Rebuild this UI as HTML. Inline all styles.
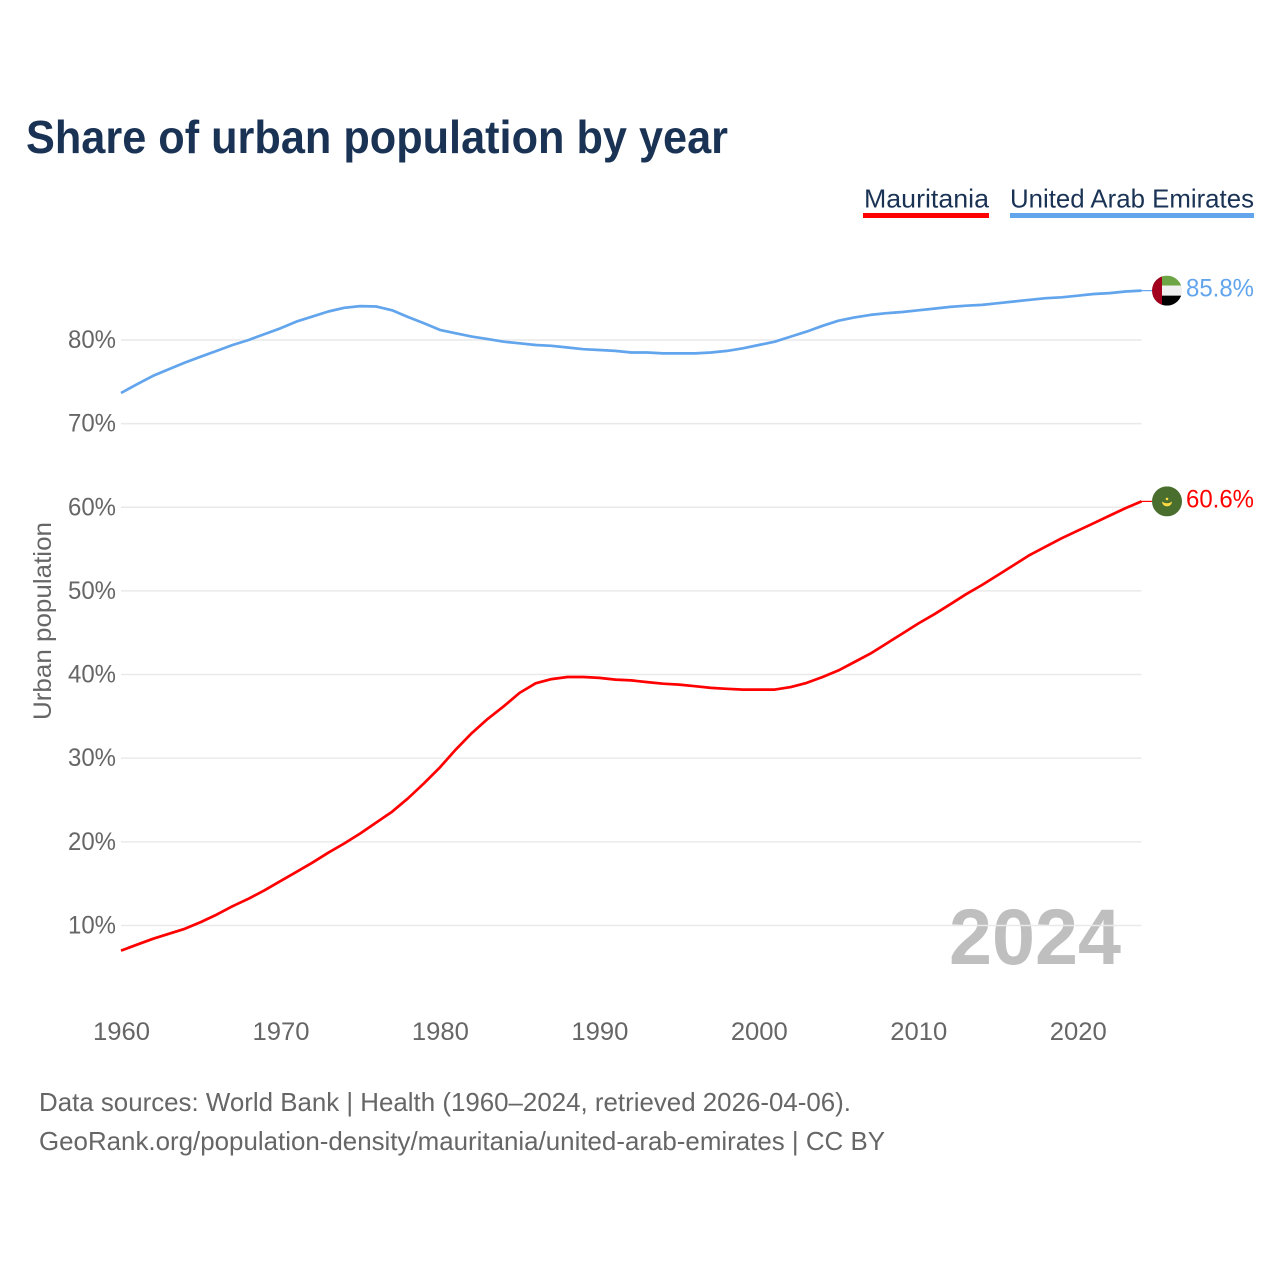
<!DOCTYPE html>
<html lang="en">
<head>
<meta charset="utf-8">
<title>Share of urban population by year</title>
<style>
html,body{margin:0;padding:0;background:#fff;width:1280px;height:1280px;overflow:hidden}
svg{display:block;font-family:"Liberation Sans",sans-serif}
</style>
</head>
<body>
<svg id="chart" width="1280" height="1280" viewBox="0 0 1280 1280" xmlns="http://www.w3.org/2000/svg">
  <rect width="1280" height="1280" fill="#fff"/>
  <text x="26" y="153" font-size="46" font-weight="700" fill="#1a3355" textLength="702" lengthAdjust="spacingAndGlyphs">Share of urban population by year</text>

  <g>
    <text x="864" y="207.5" font-size="26" fill="#1a3355" textLength="125" lengthAdjust="spacingAndGlyphs">Mauritania</text>
    <rect x="863" y="213" width="126" height="5" fill="#ff0000"/>
  </g>
  <g>
    <text x="1010" y="207.5" font-size="26" fill="#1a3355" textLength="244" lengthAdjust="spacingAndGlyphs">United Arab Emirates</text>
    <rect x="1010" y="213" width="244" height="5" fill="#62a5ed"/>
  </g>

  <text x="949" y="964" font-size="79" font-weight="700" fill="#bfbfbf" textLength="172" lengthAdjust="spacingAndGlyphs">2024</text>

  <g id="grid"></g>
  <g id="yticks"></g>
  <g id="xticks"></g>

  <text transform="translate(51,720) rotate(-90)" font-size="25" fill="#666" textLength="198" lengthAdjust="spacingAndGlyphs">Urban population</text>

  <g id="series"></g>

  <defs>
    <clipPath id="clip-uae"><circle id="clip-uae-c" r="15"/></clipPath>
    <clipPath id="clip-mr"><circle id="clip-mr-c" r="15"/></clipPath>
  </defs>
  <g id="flag-uae" clip-path="url(#clip-uae)"></g>
  <g id="flag-mr" clip-path="url(#clip-mr)"></g>
  <g id="end-labels"></g>

  <text x="39" y="1111" font-size="26" fill="#666" textLength="812" lengthAdjust="spacingAndGlyphs">Data sources: World Bank | Health (1960–2024, retrieved 2026-04-06).</text>
  <text x="39" y="1150" font-size="26" fill="#666" textLength="846" lengthAdjust="spacingAndGlyphs">GeoRank.org/population-density/mauritania/united-arab-emirates | CC BY</text>
</svg>
<script>
const years = [1960,1961,1962,1963,1964,1965,1966,1967,1968,1969,1970,1971,1972,1973,1974,1975,1976,1977,1978,1979,1980,1981,1982,1983,1984,1985,1986,1987,1988,1989,1990,1991,1992,1993,1994,1995,1996,1997,1998,1999,2000,2001,2002,2003,2004,2005,2006,2007,2008,2009,2010,2011,2012,2013,2014,2015,2016,2017,2018,2019,2020,2021,2022,2023,2024];
const mauritania = [7.0,7.7,8.4,9.0,9.6,10.4,11.3,12.3,13.2,14.2,15.3,16.4,17.5,18.7,19.8,21.0,22.3,23.6,25.2,27.0,28.9,31.05,33.0,34.7,36.2,37.8,38.95,39.45,39.7,39.7,39.6,39.4,39.3,39.1,38.9,38.8,38.6,38.4,38.3,38.2,38.2,38.2,38.5,39.0,39.7,40.5,41.5,42.5,43.7,44.9,46.1,47.2,48.4,49.6,50.7,51.9,53.1,54.3,55.3,56.3,57.2,58.1,59.0,59.9,60.7];
const uae = [73.66,74.7,75.7,76.5,77.3,78.0,78.7,79.4,80.0,80.7,81.4,82.2,82.8,83.4,83.85,84.05,84.0,83.55,82.75,82.0,81.2,80.8,80.4,80.1,79.8,79.6,79.4,79.3,79.1,78.9,78.8,78.7,78.5,78.5,78.4,78.4,78.4,78.5,78.7,79.0,79.4,79.8,80.4,81.0,81.7,82.3,82.7,83.0,83.2,83.35,83.55,83.75,83.95,84.1,84.2,84.4,84.6,84.8,85.0,85.1,85.3,85.5,85.6,85.8,85.9];
const yTickValues = [10,20,30,40,50,60,70,80];
const xTickValues = [1960,1970,1980,1990,2000,2010,2020];
const endLabels = ["85.8%","60.6%"];

const NS = 'http://www.w3.org/2000/svg';
const X0 = 121, X1 = 1141.5, Y0 = 1009.1, PER_PCT = 8.364;
const xScale = y => X0 + (y - 1960) * (X1 - X0) / 64;
const yScale = v => Y0 - v * PER_PCT;
function make(tag, attrs, parent) {
  const el = document.createElementNS(NS, tag);
  for (const k in attrs) el.setAttribute(k, attrs[k]);
  parent.appendChild(el);
  return el;
}

const grid = document.getElementById('grid');
const yticks = document.getElementById('yticks');
yTickValues.forEach(v => {
  const line = make('line', {x1: X0, x2: X1, y1: yScale(v), y2: yScale(v), stroke: '#e9e9e9', 'stroke-width': 1.5}, grid);
  
  
  const t = make('text', {x: 68, y: yScale(v) + 8, 'font-size': 25, fill: '#666', textLength: 48, lengthAdjust: 'spacingAndGlyphs'}, yticks);
  t.textContent = v + '%';
  
  
});

const xticks = document.getElementById('xticks');
xTickValues.forEach(y => {
  const t = make('text', {x: xScale(y) - 28, y: 1040, 'font-size': 25, fill: '#666', textLength: 57, lengthAdjust: 'spacingAndGlyphs'}, xticks);
  t.textContent = y;
  
  
});

const series = document.getElementById('series');
function drawLine(values, color, name) {
  const pts = values.map((v, i) => xScale(years[i]).toFixed(1) + ',' + yScale(v).toFixed(1));
  const lastY = yScale(values[values.length - 1]);
  const p = make('polyline', {points: pts.join(' '), fill: 'none', stroke: color, 'stroke-width': 2.7, 'stroke-linejoin': 'round'}, series);
  
  
  const stub = make('line', {x1: X1, x2: 1152, y1: lastY, y2: lastY, stroke: color, 'stroke-width': 1.2}, series);
  
  
  return lastY;
}
const endMr = drawLine(mauritania, '#ff0000', 'line-mauritania');
const endUae = drawLine(uae, '#62a5ed', 'line-united-arab-emirates');

const CX = 1167;
const cu = document.getElementById('clip-uae-c');
cu.setAttribute('cx', CX);
cu.setAttribute('cy', endUae);
const fu = document.getElementById('flag-uae');
make('rect', {x: CX - 15, y: endUae - 15, width: 30, height: 10, fill: '#6da544'}, fu);
make('rect', {x: CX - 15, y: endUae - 5, width: 30, height: 10, fill: '#f0f0f0'}, fu);
make('rect', {x: CX - 15, y: endUae + 5, width: 30, height: 10, fill: '#000'}, fu);
make('rect', {x: CX - 15, y: endUae - 15, width: 10, height: 30, fill: '#a2001d'}, fu);

const cm = document.getElementById('clip-mr-c');
cm.setAttribute('cx', CX);
cm.setAttribute('cy', endMr);
const fm = document.getElementById('flag-mr');
make('rect', {x: CX - 15, y: endMr - 15, width: 30, height: 30, fill: '#496e2d'}, fm);
make('path', {d: `M${CX - 5} ${endMr} A5 5 0 0 0 ${CX + 5} ${endMr} A6 4 0 0 1 ${CX - 5} ${endMr}Z`, fill: '#ffda44'}, fm);
make('circle', {cx: CX, cy: endMr - 2.5, r: 1.3, fill: '#ffda44'}, fm);

const labels = document.getElementById('end-labels');
[[endLabels[0], endUae, '#62a5ed', 'end-label-uae'], [endLabels[1], endMr, '#ff0000', 'end-label-mauritania']].forEach(d => {
  const t = make('text', {x: 1186, y: d[1] + 6, 'font-size': 25, fill: d[2], textLength: 68, lengthAdjust: 'spacingAndGlyphs'}, labels);
  t.textContent = d[0];
  
  
});
</script>
</body>
</html>
